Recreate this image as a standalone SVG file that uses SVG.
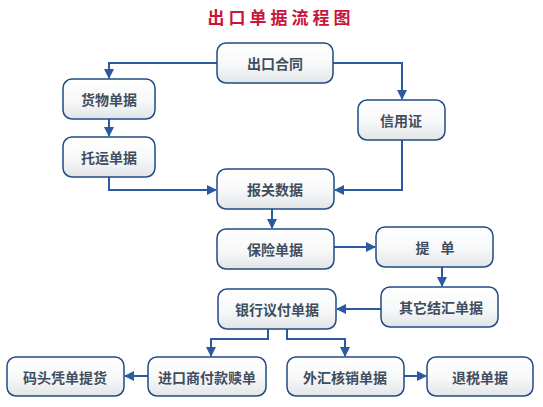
<svg xmlns="http://www.w3.org/2000/svg" width="543" height="407" viewBox="0 0 543 407">
<defs>
<linearGradient id="g" x1="0" y1="0" x2="0" y2="1">
<stop offset="0" stop-color="#ffffff"/>
<stop offset="0.55" stop-color="#f7f8f9"/>
<stop offset="1" stop-color="#e2e4e7"/>
</linearGradient>
<marker id="a" viewBox="0 0 10 10" refX="9" refY="5" markerWidth="5" markerHeight="5" orient="auto" markerUnits="strokeWidth">
<path d="M0,0 L10,5 L0,10 z" fill="#2c5aa0"/>
</marker>
<style>
.n rect{fill:url(#g);stroke:#1f4b86;stroke-width:1.5}
.n text{font-family:"Noto Sans CJK SC","Noto Sans",sans-serif;font-size:14px;font-weight:bold;fill:#3f4d5e;text-anchor:middle;dominant-baseline:central}
.c path{fill:none;stroke:#2c5aa0;stroke-width:2;marker-end:url(#a)}
.t{font-family:"Noto Sans CJK SC",sans-serif;font-size:17px;font-weight:bold;fill:#c8163a;text-anchor:middle;letter-spacing:4px}
</style>
</defs>
<rect width="543" height="407" fill="#ffffff"/>
<text class="t" x="281" y="24">出口单据流程图</text>
<g class="c">
<path d="M217,63 H109 V78"/>
<path d="M333,63 H402 V99"/>
<path d="M109,119 V136"/>
<path d="M109,177 V190 H216"/>
<path d="M402,140 V190 H335"/>
<path d="M272,209 V228"/>
<path d="M334,247 H375"/>
<path d="M442,267 V286"/>
<path d="M381,309 H337"/>
<path d="M268,329 V339 H211 V356"/>
<path d="M287,329 V339 H345 V356"/>
<path d="M148,376 H125"/>
<path d="M404,376 H426"/>
</g>
<g id="n1" class="n"><rect x="217" y="43" width="116" height="40" rx="9"/><text x="275" y="63">出口合同</text></g>
<g id="n2" class="n"><rect x="63" y="79" width="92" height="40" rx="9"/><text x="109" y="99">货物单据</text></g>
<g id="n3" class="n"><rect x="63" y="137" width="92" height="40" rx="9"/><text x="109" y="157">托运单据</text></g>
<g id="n4" class="n"><rect x="358" y="100" width="87" height="40" rx="9"/><text x="401" y="120">信用证</text></g>
<g id="n5" class="n"><rect x="217" y="169" width="117" height="40" rx="9"/><text x="275" y="189">报关数据</text></g>
<g id="n6" class="n"><rect x="217" y="229" width="117" height="40" rx="9"/><text x="275" y="249">保险单据</text></g>
<g id="n7" class="n"><rect x="376" y="227" width="117" height="40" rx="9"/><text x="435" y="247" word-spacing="8">提 单</text></g>
<g id="n8" class="n"><rect x="381" y="287" width="117" height="40" rx="9"/><text x="441" y="307">其它结汇单据</text></g>
<g id="n9" class="n"><rect x="218" y="289" width="118" height="40" rx="9"/><text x="277" y="309">银行议付单据</text></g>
<g id="n10" class="n"><rect x="7" y="357" width="117" height="39" rx="9"/><text x="65" y="377">码头凭单提货</text></g>
<g id="n11" class="n"><rect x="148" y="357" width="118" height="39" rx="9"/><text x="207" y="377">进口商付款赎单</text></g>
<g id="n12" class="n"><rect x="287" y="357" width="117" height="39" rx="9"/><text x="345" y="377">外汇核销单据</text></g>
<g id="n13" class="n"><rect x="427" y="357" width="106" height="39" rx="9"/><text x="480" y="377">退税单据</text></g>
</svg>
